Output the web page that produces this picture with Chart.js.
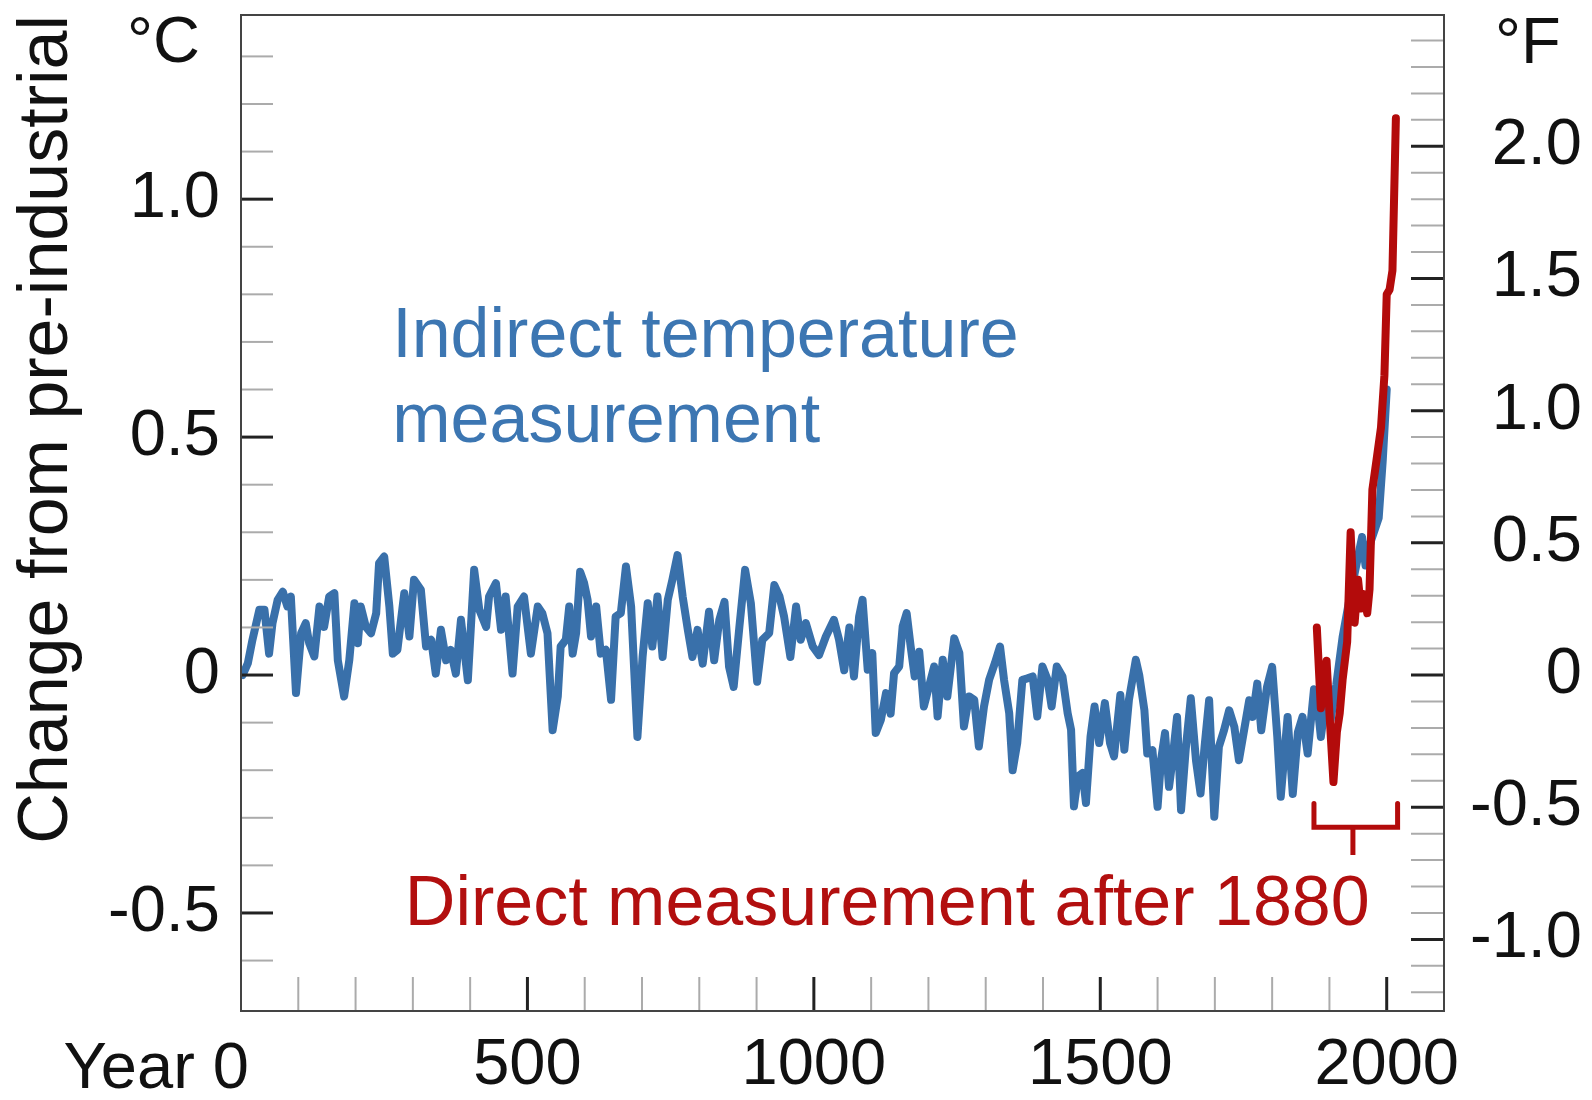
<!DOCTYPE html>
<html>
<head>
<meta charset="utf-8">
<title>Change in average surface temperature since year 0</title>
<script src="https://cdn.jsdelivr.net/npm/chart.js@4.4.1/dist/chart.umd.min.js"></script>
<style>
    html, body { margin: 0; padding: 0; background: #fff; }
    #wrap { width: 1592px; height: 1100px; }
</style>
</head>
<body>
<div id="wrap"><canvas id="tempChart" width="1592" height="1100"></canvas></div>
<script>
// Indirect (proxy) temperature, change from pre-industrial in deg C
const proxyYears = [3, 12, 20, 32, 41, 49, 55, 64, 73, 81, 87, 96, 105, 113, 119, 128, 137, 145, 154, 163,
    169, 180, 189, 198, 204, 209, 218, 227, 236, 241, 250, 259, 265, 273, 285, 294, 302, 314, 323, 332,
    340, 349, 358, 366, 375, 384, 396, 407, 416, 428, 433, 445, 454, 462, 474, 483, 494, 506, 518, 526,
    535, 544, 553, 558, 567, 573, 579, 585, 592, 599, 605, 611, 620, 628, 637, 646, 654, 663, 672, 681,
    692, 701, 710, 718, 727, 736, 745, 753, 762, 771, 780, 788, 797, 806, 817, 826, 835, 844, 852, 860,
    870, 880, 890, 901, 910, 922, 931, 940, 948, 959, 969, 977, 986, 998, 1009, 1021, 1035, 1044, 1053, 1062,
    1070, 1079, 1085, 1094, 1102, 1108, 1117, 1126, 1134, 1140, 1149, 1155, 1162, 1169, 1176, 1184, 1192, 1201, 1210, 1216,
    1225, 1233, 1245, 1254, 1262, 1271, 1280, 1288, 1297, 1306, 1316, 1325, 1332, 1341, 1347, 1355, 1364, 1373, 1382, 1390,
    1399, 1408, 1415, 1424, 1434, 1443, 1449, 1454, 1461, 1469, 1475, 1483, 1490, 1498, 1508, 1517, 1524, 1535, 1542, 1550,
    1562, 1568, 1577, 1582, 1591, 1600, 1606, 1613, 1620, 1626, 1634, 1641, 1649, 1658, 1667, 1675, 1682, 1690, 1699, 1707,
    1716, 1725, 1734, 1742, 1751, 1760, 1766, 1774, 1781, 1791, 1800, 1809, 1815, 1827, 1836, 1845, 1853, 1862, 1873,
    1879, 1885, 1893, 1902, 1912, 1923, 1935, 1945, 1957, 1963, 1972, 1986, 1993, 2000];
const proxyTemps = [0.00, 0.025, 0.074, 0.137, 0.137, 0.045, 0.109, 0.158, 0.175, 0.144, 0.165, -0.038, 0.088, 0.109, 0.067, 0.039, 0.144, 0.101, 0.165, 0.172,
    0.031, -0.045, 0.031, 0.151, 0.067, 0.144, 0.101, 0.088, 0.13, 0.235, 0.249, 0.144, 0.045, 0.053, 0.172, 0.081, 0.20, 0.179, 0.06, 0.074,
    0.003, 0.095, 0.031, 0.053, 0.003, 0.116, -0.011, 0.221, 0.137, 0.101, 0.165, 0.193, 0.095, 0.165, 0.003, 0.144, 0.165, 0.045, 0.144, 0.13,
    0.088, -0.116, -0.045, 0.06, 0.074, 0.144, 0.045, 0.088, 0.217, 0.193, 0.158, 0.081, 0.144, 0.045, 0.053, -0.052, 0.123, 0.13, 0.228, 0.144,
    -0.13, 0.038, 0.151, 0.06, 0.165, 0.038, 0.158, 0.20, 0.252, 0.165, 0.095, 0.038, 0.095, 0.024, 0.133, 0.031, 0.116, 0.154, 0.017, -0.025,
    0.101, 0.221, 0.151, -0.014, 0.074, 0.088, 0.189, 0.165, 0.123, 0.038, 0.144, 0.074, 0.109, 0.06, 0.042, 0.081, 0.116, 0.074, 0.01, 0.10,
    -0.003, 0.123, 0.158, 0.011, 0.046, -0.122, -0.094, -0.038, -0.081, 0.004, 0.018, 0.102, 0.13, 0.06, -0.003, 0.049, -0.066, -0.024, 0.018, -0.087,
    0.032, -0.045, 0.077, 0.046, -0.108, -0.045, -0.052, -0.15, -0.066, -0.01, 0.025, 0.06, -0.01, -0.08, -0.20, -0.143, -0.01, -0.007, -0.003, -0.087,
    0.018, -0.01, -0.066, 0.018, -0.003, -0.08, -0.115, -0.276, -0.213, -0.206, -0.269, -0.129, -0.066, -0.143, -0.059, -0.143, -0.171, -0.042, -0.157, -0.052,
    0.032, 0.00, -0.074, -0.165, -0.158, -0.277, -0.179, -0.122, -0.235, -0.179, -0.088, -0.284, -0.158, -0.049, -0.179, -0.249, -0.151, -0.053, -0.298, -0.151,
    -0.116, -0.074, -0.109, -0.179, -0.116, -0.053, -0.088, -0.018, -0.116, -0.025, 0.017, -0.13, -0.256, -0.088, -0.25, -0.12, -0.088, -0.165, -0.03,
    -0.06, -0.13, -0.06, -0.095, -0.02, 0.08, 0.16, 0.22, 0.29, 0.23, 0.28, 0.33, 0.45, 0.60];

// Direct (instrumental) measurement after 1880, deg C
const directYears = [1878, 1885, 1890, 1895, 1900, 1907, 1913, 1918, 1923, 1931, 1937, 1944, 1950,
    1955, 1960, 1966, 1970, 1975, 1982, 1990, 1996, 2000, 2005, 2010, 2016];
const directTemps = [0.10, -0.07, -0.02, 0.03, -0.08, -0.225, -0.12, -0.08, -0.01, 0.07, 0.30, 0.11, 0.20,
    0.14, 0.17, 0.13, 0.18, 0.39, 0.45, 0.52, 0.63, 0.80, 0.81, 0.85, 1.17];

// Brace marking the direct-measurement period
const braceYears = [1873, 1873, 1941, 1941, 1941, 2019, 2019];
const braceTemps = [-0.27, -0.32, -0.32, -0.378, -0.32, -0.32, -0.27];

// Axis ranges and labelled ticks
const yearRange = [0, 2100];
const celsiusRange = [-0.706, 1.387];
const yearTicks = [0, 500, 1000, 1500, 2000];
const yearLabels = ['Year 0', '500', '1000', '1500', '2000'];
const celsiusTicks = [-0.5, 0, 0.5, 1.0];
const celsiusLabels = ['-0.5', '0', '0.5', '1.0'];
const fahrenheitTicks = [-1.0, -0.5, 0, 0.5, 1.0, 1.5, 2.0];
const fahrenheitLabels = ['-1.0', '-0.5', '0', '0.5', '1.0', '1.5', '2.0'];

const FONT = '"Liberation Sans", Arial, sans-serif';
const BLUE = '#3970aa';
const RED = '#b30b0b';

function toPoints(xs, ys) {
    return xs.map((x, i) => ({ x: x, y: ys[i] }));
}

function labelFor(value, ticks, labels) {
    const i = ticks.findIndex(t => Math.abs(t - value) < 1e-6);
    return i >= 0 ? labels[i] : null;
}

function isMajor(value, step) {
    return Math.abs(value / step - Math.round(value / step)) < 1e-6;
}

// walk every minor step inside the scale range
function eachStep(scale, step, fn) {
    const first = Math.ceil(scale.min / step - 1e-9);
    const last = Math.floor(scale.max / step + 1e-9);
    for (let k = first; k <= last; k++) {
        fn(scale.getPixelForValue(k * step), k * step);
    }
}

// Inward tick marks, frame and text annotations
const framePlugin = {
    id: 'frame',
    afterDatasetsDraw(chart) {
        const { ctx, chartArea: a, scales } = chart;
        ctx.save();

        const tick = (x1, y1, x2, y2, major) => {
            ctx.strokeStyle = major ? '#222' : '#ababab';
            ctx.lineWidth = major ? 3 : 2;
            ctx.beginPath();
            ctx.moveTo(x1, y1);
            ctx.lineTo(x2, y2);
            ctx.stroke();
        };
        const inY = y => y > a.top + 4 && y < a.bottom - 4;

        eachStep(scales.y, 0.1, (y, v) => { if (inY(y)) tick(a.left, y, a.left + 32, y, isMajor(v, 0.5)); });
        eachStep(scales.y2, 0.1, (y, v) => { if (inY(y)) tick(a.right, y, a.right - 33, y, isMajor(v, 0.5)); });
        eachStep(scales.x, 100, (x, v) => {
            if (x > a.left + 4 && x < a.right - 4) tick(x, a.bottom, x, a.bottom - 34, isMajor(v, 500));
        });

        // plot frame
        ctx.strokeStyle = '#444';
        ctx.lineWidth = 2;
        ctx.strokeRect(a.left, a.top, a.right - a.left, a.bottom - a.top);

        // annotations
        ctx.textBaseline = 'alphabetic';
        ctx.textAlign = 'left';
        ctx.font = '70px ' + FONT;
        ctx.fillStyle = '#3c76b2';
        ctx.fillText('Indirect temperature', scales.x.getPixelForValue(264), scales.y.getPixelForValue(0.668));
        ctx.fillText('measurement', scales.x.getPixelForValue(264), scales.y.getPixelForValue(0.49));
        ctx.fillStyle = '#b20f0f';
        ctx.fillText('Direct measurement after 1880', scales.x.getPixelForValue(286), scales.y.getPixelForValue(-0.525));

        // unit labels
        ctx.fillStyle = '#111';
        ctx.font = '65px ' + FONT;
        ctx.fillText('°C', a.left - 114, a.top + 47);
        ctx.fillText('°F', a.right + 51, a.top + 48);

        // first year label sits to the left of its tick
        ctx.textAlign = 'right';
        ctx.textBaseline = 'middle';
        ctx.fillText(yearLabels[0], scales.x.getPixelForValue(yearTicks[0]) + 8, scales.x.top + 59);

        ctx.restore();
    }
};

const tickFont = { family: FONT, size: 65 };

new Chart(document.getElementById('tempChart'), {
    type: 'line',
    data: {
        datasets: [
            {
                label: 'Direct measurement',
                data: toPoints(directYears, directTemps),
                borderColor: RED,
                borderWidth: 8,
                order: 0
            },
            {
                label: 'Brace',
                data: toPoints(braceYears, braceTemps),
                borderColor: RED,
                borderWidth: 5,
                borderJoinStyle: 'miter',
                order: 0
            },
            {
                label: 'Indirect temperature measurement',
                data: toPoints(proxyYears, proxyTemps),
                borderColor: BLUE,
                borderWidth: 8,
                order: 1
            }
        ]
    },
    options: {
        responsive: false,
        animation: false,
        layout: { padding: { top: 15, right: 10, bottom: 0, left: 0 } },
        elements: {
            point: { radius: 0, hoverRadius: 0 },
            line: { tension: 0, borderJoinStyle: 'round', borderCapStyle: 'round', fill: false }
        },
        plugins: {
            legend: { display: false },
            tooltip: { enabled: false }
        },
        scales: {
            x: {
                type: 'linear',
                min: yearRange[0],
                max: yearRange[1],
                grid: { display: false, drawTicks: false },
                border: { display: false },
                ticks: {
                    stepSize: 100,
                    autoSkip: false,
                    maxRotation: 0,
                    minRotation: 0,
                    padding: 16,
                    color: '#111',
                    font: tickFont,
                    callback: v => (v === yearTicks[0] ? null : labelFor(v, yearTicks, yearLabels))
                },
                afterFit: s => { s.height = 89; s.paddingLeft = 0; s.paddingRight = 0; }
            },
            y: {
                type: 'linear',
                position: 'left',
                min: celsiusRange[0],
                max: celsiusRange[1],
                grid: { display: false, drawTicks: false },
                border: { display: false },
                ticks: {
                    stepSize: 0.1,
                    includeBounds: false,
                    autoSkip: false,
                    maxTicksLimit: 100,
                    padding: 21,
                    color: '#111',
                    font: tickFont,
                    callback: v => labelFor(v, celsiusTicks, celsiusLabels)
                },
                title: {
                    display: true,
                    text: 'Change from pre-industrial',
                    align: 'end',
                    color: '#111',
                    font: { family: FONT, size: 70 },
                    padding: { top: 6, bottom: 0 }
                },
                afterFit: s => { s.width = 241; s.paddingTop = 0; s.paddingBottom = 0; }
            },
            y2: {
                type: 'linear',
                position: 'right',
                min: celsiusRange[0] * 1.8,
                max: celsiusRange[1] * 1.8,
                grid: { display: false, drawTicks: false },
                border: { display: false },
                ticks: {
                    stepSize: 0.1,
                    includeBounds: false,
                    autoSkip: false,
                    maxTicksLimit: 100,
                    crossAlign: 'far',
                    color: '#111',
                    font: tickFont,
                    callback: v => labelFor(v, fahrenheitTicks, fahrenheitLabels)
                },
                afterFit: s => { s.width = 138; s.paddingTop = 0; s.paddingBottom = 0; }
            }
        }
    },
    plugins: [framePlugin]
});
</script>
</body>
</html>
